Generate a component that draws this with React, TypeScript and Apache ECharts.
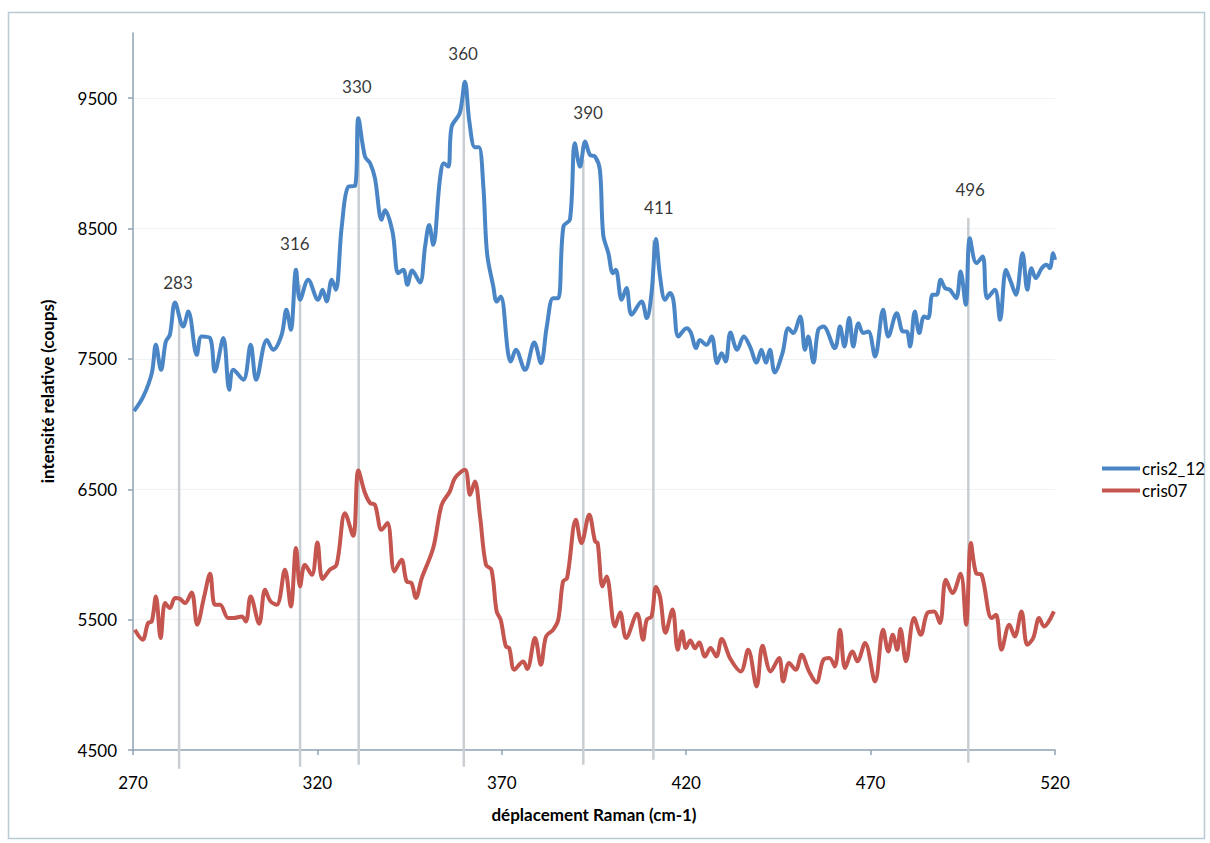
import React, { useEffect, useRef } from "react";
import * as echarts from "echarts";

const blueX = [270.3, 272.8, 275.1, 276.2, 277.6, 278.9, 280.0, 281.4, 283.6, 285.0, 287.3, 288.6, 290.9, 292.2, 294.5, 296.1, 297.2, 299.9, 301.9, 303.4, 306.3, 308.0, 310.3, 311.6, 312.8, 314.2, 315.3, 317.5, 320.2, 321.4, 322.5, 323.9, 325.0, 326.6, 328.4, 330.2, 331.1, 332.9, 334.3, 335.6, 337.4, 338.3, 340.4, 341.9, 343.3, 344.4, 345.7, 347.8, 349.2, 350.3, 351.4, 353.2, 354.3, 355.5, 356.4, 358.6, 360.0, 361.2, 362.7, 363.8, 365.0, 366.0, 367.7, 368.6, 369.7, 371.7, 372.4, 373.8, 376.3, 378.8, 380.6, 382.2, 383.9, 385.3, 386.7, 388.5, 389.8, 391.2, 392.6, 393.9, 395.3, 396.6, 397.5, 398.9, 400.1, 400.9, 402.5, 403.8, 405.2, 407.9, 409.3, 410.6, 411.8, 412.9, 414.3, 415.6, 416.5, 417.9, 420.1, 421.2, 422.7, 423.7, 425.5, 426.9, 428.4, 429.6, 430.7, 432.0, 433.8, 435.6, 437.3, 439.1, 440.4, 441.6, 442.7, 444.0, 446.1, 447.7, 449.0, 450.9, 452.2, 453.1, 454.5, 455.8, 457.2, 460.3, 461.7, 462.9, 464.2, 465.3, 466.7, 468.0, 469.4, 471.2, 473.4, 474.8, 477.1, 478.8, 479.8, 480.7, 482.0, 483.2, 484.5, 485.6, 486.8, 487.9, 489.0, 490.2, 491.5, 493.2, 494.4, 495.8, 496.9, 498.7, 500.4, 501.6, 503.7, 505.1, 506.7, 508.0, 509.4, 511.2, 512.5, 513.6, 514.8, 516.4, 517.7, 518.6, 519.5, 520.0];
const blueY = [7100, 7212, 7391, 7608, 7416, 7633, 7685, 7932, 7748, 7863, 7531, 7672, 7660, 7403, 7660, 7263, 7416, 7340, 7608, 7340, 7646, 7570, 7685, 7877, 7723, 8183, 7953, 8107, 7953, 8030, 7940, 8107, 8030, 8515, 8822, 8827, 9347, 9052, 9001, 8886, 8567, 8640, 8470, 8158, 8183, 8068, 8178, 8086, 8362, 8528, 8375, 8873, 9001, 8975, 9282, 9385, 9627, 9320, 9124, 9124, 8822, 8311, 8055, 7940, 7978, 7544, 7480, 7570, 7416, 7626, 7468, 7748, 7966, 7966, 8515, 8572, 9155, 8975, 9167, 9065, 9052, 8950, 8452, 8311, 8158, 8183, 7953, 8043, 7838, 7940, 7813, 8005, 8419, 8132, 7953, 8005, 7953, 7672, 7736, 7705, 7583, 7646, 7608, 7672, 7468, 7544, 7480, 7703, 7570, 7672, 7595, 7472, 7570, 7472, 7570, 7396, 7544, 7736, 7698, 7825, 7570, 7672, 7472, 7723, 7748, 7583, 7748, 7595, 7813, 7595, 7774, 7698, 7710, 7518, 7877, 7672, 7851, 7710, 7710, 7595, 7863, 7698, 7825, 7813, 7992, 7992, 8107, 8043, 8030, 7966, 8170, 7915, 8426, 8235, 8285, 7966, 8030, 7800, 8183, 8093, 7992, 8311, 8030, 8196, 8120, 8196, 8222, 8196, 8311, 8260];

const redX = [270.5, 272.6, 274.1, 275.1, 276.2, 277.5, 278.7, 280.0, 281.4, 282.7, 284.1, 285.9, 287.4, 289.3, 290.9, 292.2, 293.6, 295.8, 297.2, 299.5, 300.6, 301.9, 304.2, 305.8, 307.3, 309.0, 311.2, 312.8, 314.2, 315.3, 316.6, 318.5, 320.0, 321.4, 323.4, 325.2, 327.5, 329.7, 331.1, 332.9, 334.3, 335.6, 337.4, 339.0, 340.9, 342.8, 344.2, 345.5, 346.7, 348.3, 351.4, 353.7, 355.9, 357.3, 360.0, 361.4, 362.7, 364.1, 365.7, 367.2, 368.6, 369.7, 371.1, 372.0, 373.4, 375.8, 376.9, 379.0, 380.6, 382.0, 383.9, 385.3, 386.6, 387.7, 390.1, 391.6, 393.7, 395.3, 396.0, 397.3, 398.4, 400.7, 402.1, 403.7, 406.7, 408.3, 409.3, 410.6, 411.8, 412.9, 414.4, 416.3, 417.7, 418.9, 419.9, 421.1, 422.4, 423.5, 425.1, 426.6, 428.2, 429.6, 432.0, 434.8, 436.8, 439.1, 440.7, 442.9, 445.2, 446.3, 447.9, 449.7, 451.3, 453.3, 455.3, 457.2, 458.8, 460.3, 461.7, 463.1, 465.1, 466.4, 468.5, 471.2, 473.4, 474.8, 476.0, 477.2, 478.1, 479.6, 481.8, 483.6, 485.4, 487.2, 488.8, 490.4, 492.2, 494.4, 495.9, 497.2, 498.6, 500.1, 502.8, 504.0, 505.5, 507.6, 509.1, 510.9, 512.5, 514.1, 515.7, 517.0, 519.7];
const redY = [5422, 5346, 5474, 5486, 5678, 5359, 5627, 5589, 5666, 5660, 5627, 5709, 5461, 5678, 5852, 5614, 5614, 5512, 5512, 5524, 5486, 5678, 5469, 5729, 5640, 5614, 5883, 5601, 6049, 5755, 5921, 5844, 6092, 5811, 5883, 5921, 6317, 6143, 6644, 6471, 6394, 6381, 6189, 6241, 5870, 5959, 5793, 5781, 5666, 5819, 6049, 6381, 6483, 6586, 6650, 6458, 6560, 6291, 5921, 5883, 5563, 5499, 5294, 5282, 5116, 5179, 5121, 5359, 5154, 5371, 5422, 5499, 5793, 5819, 6266, 6087, 6304, 6100, 6087, 5755, 5831, 5448, 5555, 5359, 5545, 5346, 5499, 5524, 5750, 5678, 5400, 5578, 5269, 5410, 5282, 5340, 5280, 5325, 5218, 5282, 5218, 5351, 5198, 5103, 5269, 4988, 5300, 5103, 5205, 5026, 5167, 5116, 5231, 5103, 5018, 5193, 5205, 5141, 5422, 5129, 5256, 5180, 5321, 5026, 5422, 5256, 5384, 5269, 5428, 5180, 5512, 5384, 5551, 5563, 5474, 5806, 5704, 5852, 5461, 6087, 5857, 5844, 5512, 5537, 5269, 5461, 5371, 5563, 5307, 5359, 5512, 5448, 5563];

const seriesNames = ["cris2_12", "cris07"];

const markerX = [282.5, 315.3, 331.2, 359.7, 392.1, 411.1, 496.5];
const markerTop = [7800, 8070, 9340, 9620, 9030, 8410, 8580];
const markerBottom = [4357, 4372, 4387, 4372, 4387, 4425, 4402];

const peakLabels = ["283", "316", "330", "360", "390", "411", "496"];
const peakLabelX = [282.2, 313.9, 330.7, 359.5, 393.4, 412.6, 497.0];
const peakLabelY = [8084, 8383, 9587, 9840, 9387, 8659, 8797];

const FONT = "Lato, 'Open Sans', sans-serif";
const TEXT = "#000000";

export default function App() {
  const ref = useRef<HTMLDivElement>(null);
  useEffect(() => {
    if (!ref.current) return;
    const chart = echarts.init(ref.current, null, { renderer: "svg" });
    const markerSeries = markerX.map((x, i) => ({
      type: "line",
      name: "marker" + i,
      data: [
        [x, markerTop[i]],
        [x, markerBottom[i]],
      ],
      symbol: "none",
      clip: false,
      silent: true,
      z: 1,
      lineStyle: { color: "#c9ced3", width: 2.5 },
    }));
    chart.setOption({
      animation: false,
      backgroundColor: "#ffffff",
      textStyle: { fontFamily: FONT },
      grid: { left: 133, right: 155, top: 33, bottom: 93, containLabel: false },
      legend: {
        data: seriesNames,
        orient: "vertical",
        left: 1097,
        top: 455,
        icon: "rect",
        itemWidth: 38,
        itemHeight: 4,
        itemGap: 5,
        textStyle: { fontFamily: FONT, fontSize: 17, color: TEXT, padding: [0, 0, 0, -3] },
      },
      xAxis: {
        type: "value",
        min: 270,
        max: 520,
        interval: 50,
        name: "déplacement Raman (cm-1)",
        nameLocation: "middle",
        nameGap: 56,
        nameTextStyle: { fontFamily: FONT, fontSize: 17, fontWeight: "bold", color: TEXT },
        axisLine: { show: true, onZero: false, lineStyle: { color: "#8fa2b3", width: 1.5 } },
        axisTick: { show: true, length: 5, lineStyle: { color: "#8fa2b3", width: 1.5 } },
        axisLabel: { margin: 24, fontFamily: FONT, fontSize: 17, color: TEXT, formatter: (v: number) => String(v) },
        splitLine: { show: false },
      },
      yAxis: {
        type: "value",
        min: 4500,
        max: 10000,
        interval: 1000,
        name: "intensité relative (coups)",
        nameLocation: "middle",
        nameGap: 77,
        nameTextStyle: { fontFamily: FONT, fontSize: 17, fontWeight: "bold", color: TEXT },
        axisLine: { show: true, lineStyle: { color: "#8fa2b3", width: 1.5 } },
        axisTick: { show: true, length: 5, lineStyle: { color: "#8fa2b3", width: 1.5 } },
        axisLabel: {
          margin: 16,
          fontFamily: FONT,
          fontSize: 17,
          color: TEXT,
          showMaxLabel: false,
          formatter: (v: number) => String(v),
        },
        splitLine: { show: true, showMinLine: false, showMaxLine: false, lineStyle: { color: "#eef2f5", width: 1 } },
      },
      graphic: [
        {
          type: "rect",
          shape: { x: 8.5, y: 12.5, width: 1196, height: 826 },
          style: { fill: "none", stroke: "#b9cad6", lineWidth: 1.5 },
          silent: true,
          z: -1,
        },
      ],
      series: [
        ...markerSeries,
        {
          type: "line",
          name: seriesNames[0],
          data: blueX.map((x, i) => [x, blueY[i]]),
          symbol: "none",
          smooth: 0.35,
          z: 3,
          color: "#4a86c6",
          lineStyle: { color: "#4a86c6", width: 4 },
        },
        {
          type: "line",
          name: seriesNames[1],
          data: redX.map((x, i) => [x, redY[i]]),
          symbol: "none",
          smooth: 0.35,
          z: 3,
          color: "#c4554f",
          lineStyle: { color: "#c4554f", width: 4 },
        },
        {
          type: "scatter",
          name: "peaks",
          data: peakLabelX.map((x, i) => ({ value: [x, peakLabelY[i]], name: peakLabels[i] })),
          symbolSize: 0,
          silent: true,
          z: 4,
          label: {
            show: true,
            position: "inside",
            formatter: (p: any) => p.name,
            fontFamily: FONT,
            fontSize: 17,
            color: TEXT,
          },
        },
      ],
    });
    return () => chart.dispose();
  }, []);
  return (
    <div
      ref={ref}
      style={{ position: "absolute", left: 0, top: 0, width: 1210, height: 843 }}
    />
  );
}
